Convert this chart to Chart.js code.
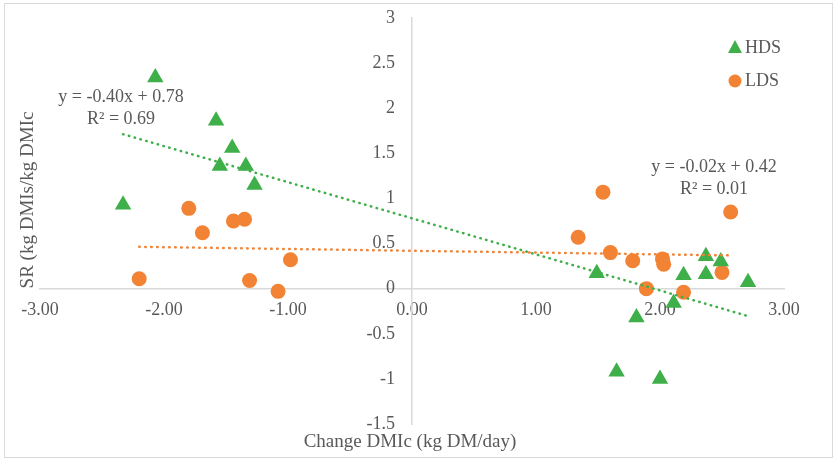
<!DOCTYPE html>
<html>
<head>
<meta charset="utf-8">
<script src="https://cdn.jsdelivr.net/npm/chart.js@4/dist/chart.umd.min.js"></script>
<style>
  html, body { margin: 0; padding: 0; background: #fff; }
  #wrap { width: 834px; height: 459px; position: relative; }
</style>
</head>
<body>
<div id="wrap"><canvas id="chart" width="834" height="459"></canvas></div>
<script>
// HDS (triangles)
const hdsX = [-2.07, -2.33, -1.58, -1.45, -1.55, -1.34, -1.27, 1.49, 2.19, 2.37, 2.37, 2.49, 2.71, 2.11, 1.81, 1.65, 2.00]
const hdsY = [2.34, 0.93, 1.86, 1.56, 1.36, 1.36, 1.15, 0.17, 0.15, 0.36, 0.16, 0.30, 0.07, -0.16, -0.32, -0.92, -1.00]

// LDS (circles)
const ldsX = [-1.80, -1.69, -1.44, -1.35, -2.20, -1.31, -1.08, -0.98, 1.54, 2.57, 1.34, 1.60, 1.78, 2.02, 2.03, 2.50, 1.89, 2.19]
const ldsY = [0.89, 0.62, 0.75, 0.77, 0.11, 0.09, -0.03, 0.32, 1.07, 0.85, 0.57, 0.40, 0.31, 0.33, 0.27, 0.18, 0.00, -0.04]

// trendline coefficients [slope, intercept] as printed on the chart
const hdsTrend = [-0.40, 0.78]
const ldsTrend = [-0.02, 0.42]
const hdsLabel = ["y = -0.40x + 0.78", "R\u00b2 = 0.69"]
const ldsLabel = ["y = -0.02x + 0.42", "R\u00b2 = 0.01"]

const xTickLabels = ["-3.00", "-2.00", "-1.00", "0.00", "1.00", "2.00", "3.00"]
const yTickLabels = ["-1.5", "-1", "-0.5", "0", "0.5", "1", "1.5", "2", "2.5", "3"]

const green = "#3eaf49"
const orange = "#f28234"
const textColor = "#595959"
const fontFamily = "'Liberation Serif', 'Times New Roman', serif"

const toPoints = (xs, ys) => xs.map((x, i) => ({ x: x, y: ys[i] }))
const trendPoints = (xs, coef) => {
  const lo = Math.min(...xs), hi = Math.max(...xs)
  return [lo, hi].map(x => ({ x: x, y: coef[0] * x + coef[1] }))
}

const decorations = {
  id: "decorations",
  beforeDraw(chart) {
    const ctx = chart.ctx
    ctx.save()
    ctx.fillStyle = "#fff"
    ctx.fillRect(0, 0, chart.width, chart.height)
    ctx.strokeStyle = "#d9d9d9"
    ctx.lineWidth = 1
    ctx.strokeRect(4.5, 3.5, 828, 454)
    ctx.restore()
  },
  afterDraw(chart) {
    const ctx = chart.ctx
    ctx.save()
    ctx.fillStyle = textColor
    ctx.font = "18px " + fontFamily
    ctx.textAlign = "center"
    ctx.textBaseline = "middle"
    ctx.fillText(hdsLabel[0], 121, 97)
    ctx.fillText(hdsLabel[1], 121, 119)
    ctx.fillText(ldsLabel[0], 714, 167)
    ctx.fillText(ldsLabel[1], 714, 189)

    // axis titles
    ctx.font = "19px " + fontFamily
    ctx.fillText("Change DMIc (kg DM/day)", 410, 442)
    ctx.save()
    ctx.translate(28, 200)
    ctx.rotate(-Math.PI / 2)
    ctx.fillText("SR (kg DMIs/kg DMIc", 0, 0)
    ctx.restore()

    // legend
    ctx.font = "18px " + fontFamily
    ctx.textAlign = "left"
    ctx.fillText("HDS", 745, 48)
    ctx.fillText("LDS", 745, 81)
    ctx.fillStyle = green
    ctx.beginPath()
    ctx.moveTo(735, 40)
    ctx.lineTo(742, 53)
    ctx.lineTo(728, 53)
    ctx.closePath()
    ctx.fill()
    ctx.fillStyle = orange
    ctx.beginPath()
    ctx.arc(735, 81, 6.5, 0, Math.PI * 2)
    ctx.fill()
    ctx.restore()
  }
}

new Chart(document.getElementById("chart"), {
  type: "scatter",
  data: {
    datasets: [
      {
        label: "HDS trend",
        data: trendPoints(hdsX, hdsTrend),
        showLine: true,
        borderColor: green,
        borderWidth: 2.5,
        borderDash: [0.5, 5.5],
        borderCapStyle: "round",
        pointRadius: 0,
        order: 0
      },
      {
        label: "LDS trend",
        data: trendPoints(ldsX, ldsTrend),
        showLine: true,
        borderColor: orange,
        borderWidth: 2.5,
        borderDash: [0.5, 5.5],
        borderCapStyle: "round",
        pointRadius: 0,
        order: 1
      },
      {
        label: "HDS",
        data: toPoints(hdsX, hdsY),
        pointStyle: "triangle",
        pointRadius: 9.5,
        backgroundColor: green,
        borderColor: green,
        borderWidth: 0,
        order: 2
      },
      {
        label: "LDS",
        data: toPoints(ldsX, ldsY),
        pointStyle: "circle",
        pointRadius: 7.5,
        backgroundColor: orange,
        borderColor: orange,
        borderWidth: 0,
        order: 3
      }
    ]
  },
  options: {
    responsive: false,
    animation: false,
    layout: { padding: { left: 40, right: 50, top: 18, bottom: 35 } },
    plugins: {
      legend: { display: false },
      tooltip: { enabled: false }
    },
    scales: {
      x: {
        type: "linear",
        position: { y: 0 },
        min: -3,
        max: 3,
        grid: { display: false, drawTicks: false },
        border: { display: true, color: "#d9d9d9", width: 1.5 },
        ticks: {
          stepSize: 1,
          padding: 11,
          color: textColor,
          font: { family: fontFamily, size: 18 },
          callback: (value) => xTickLabels[Math.round(value) + 3]
        }
      },
      y: {
        type: "linear",
        // x range is symmetric, so the centre is x = 0
        position: "center",
        min: -1.5,
        max: 3,
        grid: {
          display: true,
          drawOnChartArea: false,
          drawTicks: true,
          tickLength: 17,
          color: "transparent",
          tickColor: "transparent"
        },
        border: { display: true, color: "#d9d9d9", width: 1.5 },
        ticks: {
          stepSize: 0.5,
          padding: 0,
          color: textColor,
          font: { family: fontFamily, size: 18 },
          callback: (value) => yTickLabels[Math.round(value * 2) + 3]
        }
      }
    }
  },
  plugins: [decorations]
})
</script>
</body>
</html>
